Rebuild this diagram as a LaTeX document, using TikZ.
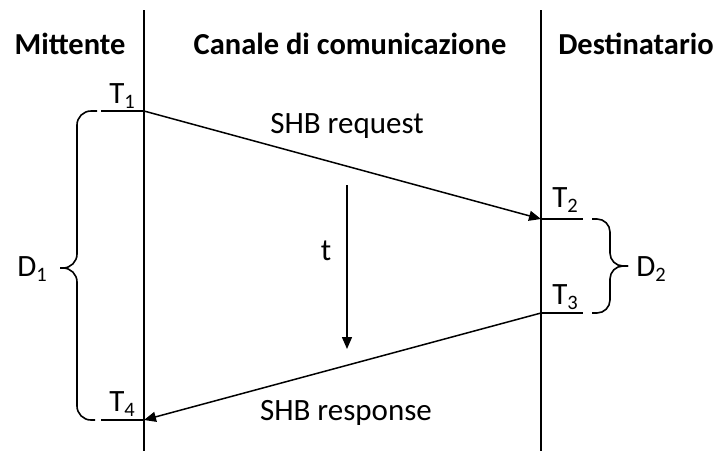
\documentclass[tikz,border=0pt]{standalone}
\usepackage{fontspec}
\setmainfont{Carlito}
\usetikzlibrary{arrows.meta}
\tikzset{
  lane/.style={line width=1.7pt},
  tick/.style={line width=1.7pt},
  msg/.style={line width=1.5pt,-{Triangle[length=12pt,width=10pt]}},
  bracepath/.style={line width=1.6pt,rounded corners=14pt},
  head/.style={font=\fontsize{30.5}{34}\selectfont\bfseries},
  lbl/.style={font=\fontsize{31}{35}\selectfont},
}
\newcommand{\sbs}[1]{\raisebox{-0.3ex}{\fontsize{20.5}{24}\selectfont #1}}
\begin{document}
\begin{tikzpicture}[x=1pt,y=-1pt]
  \useasboundingbox (0,0) rectangle (718,451);
  % lifelines
  \coordinate (ltop) at (144,10);
  \coordinate (lbot) at (144,451);
  \coordinate (rtop) at (541,10);
  \coordinate (rbot) at (541,451);
  \draw[lane] (ltop) -- (lbot);
  \draw[lane] (rtop) -- (rbot);
  % headers
  \node[head] (hsend) at (70,44) {Mittente};
  \node[head] (hchan) at (350,44) {Canale di comunicazione};
  \node[head] (hrecv) at (636,44) {Destinatario};
  % time marks
  \coordinate (t1) at (144,111);
  \coordinate (t1a) at (101,111);
  \coordinate (t2) at (541,219);
  \coordinate (t2a) at (583,219);
  \coordinate (t3) at (541,313);
  \coordinate (t3a) at (583,313);
  \coordinate (t4) at (144,420);
  \coordinate (t4a) at (101,420);
  \draw[tick] (t1a) -- (t1);
  \draw[tick] (t2) -- (t2a);
  \draw[tick] (t3) -- (t3a);
  \draw[tick] (t4a) -- (t4);
  \node[lbl] (lt1) at (122,96) {T\sbs{1}};
  \node[lbl] (lt2) at (565,200) {T\sbs{2}};
  \node[lbl] (lt3) at (565,297) {T\sbs{3}};
  \node[lbl] (lt4) at (122,404) {T\sbs{4}};
  % messages
  \draw[msg] (t1) -- (t2);
  \draw[msg] (t3) -- (t4);
  \node[lbl] (req) at (347,126) {SHB request};
  \node[lbl] (resp) at (346,413) {SHB response};
  % time axis
  \coordinate (ta) at (347,185);
  \coordinate (tb) at (347,349);
  \draw[msg] (ta) -- (tb);
  \node[lbl] (tl) at (326,251) {t};
  % braces
  \draw[bracepath] (97,111) -- (77,111) -- (77,268) -- (60,268);
  \draw[bracepath] (60,268) -- (77,268) -- (77,420) -- (95,420);
  \node[lbl] (d1) at (32,269) {D\sbs{1}};
  \draw[bracepath,rounded corners=13pt] (592,219) -- (610,219) -- (610,266) -- (628,266);
  \draw[bracepath,rounded corners=13pt] (628,266) -- (610,266) -- (610,313) -- (592,313);
  \node[lbl] (d2) at (651,269) {D\sbs{2}};
\end{tikzpicture}
\end{document}
